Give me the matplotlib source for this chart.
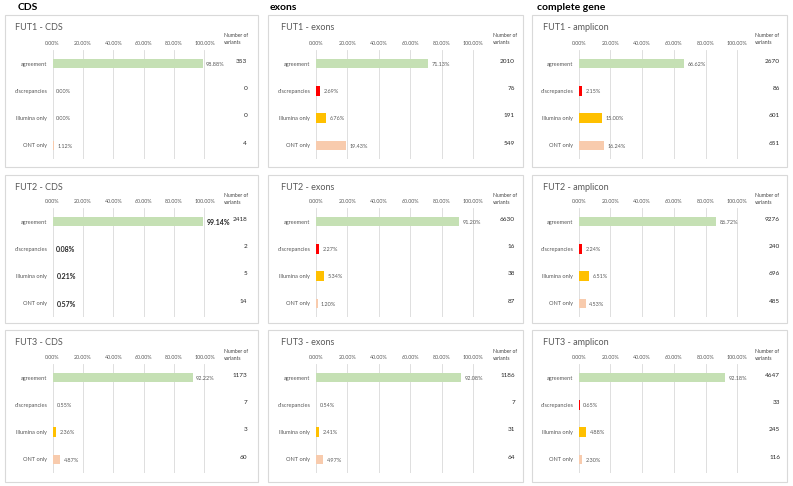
import matplotlib
matplotlib.use("Agg")
import matplotlib.pyplot as plt
from matplotlib.patches import Rectangle
from matplotlib.transforms import blended_transform_factory

plt.rcParams['font.family'] = ['Lato', 'DejaVu Sans']

W, H = 793, 486

# ---------------- data ----------------
categories = ["agreement", "discrepancies", "Illumina only", "ONT only"]
bar_colors = ["#c5e0b4", "#ff0000", "#ffc000", "#f8cbad"]
tick_values = [0, 20, 40, 60, 80, 100]
tick_labels = ["0.00%", "20.00%", "40.00%", "60.00%", "80.00%", "100.00%"]
section_titles = ["CDS", "exons", "complete gene"]
panel_titles = [
    ["FUT1 - CDS", "FUT1 - exons", "FUT1 - amplicon"],
    ["FUT2 - CDS", "FUT2 - exons", "FUT2 - amplicon"],
    ["FUT3 - CDS", "FUT3 - exons", "FUT3 - amplicon"],
]

fut1_cds_pct = [98.88, 0.00, 0.00, 1.12]
fut1_exons_pct = [71.13, 2.69, 6.76, 19.43]
fut1_amplicon_pct = [66.62, 2.15, 15.00, 16.24]
fut2_cds_pct = [99.14, 0.08, 0.21, 0.57]
fut2_exons_pct = [91.20, 2.27, 5.34, 1.20]
fut2_amplicon_pct = [86.72, 2.24, 6.51, 4.53]
fut3_cds_pct = [92.22, 0.55, 2.36, 4.87]
fut3_exons_pct = [92.08, 0.54, 2.41, 4.97]
fut3_amplicon_pct = [92.18, 0.65, 4.88, 2.30]

fut1_cds_n = [353, 0, 0, 4]
fut1_exons_n = [2010, 76, 191, 549]
fut1_amplicon_n = [2670, 86, 601, 651]
fut2_cds_n = [2418, 2, 5, 14]
fut2_exons_n = [6630, 16, 38, 87]
fut2_amplicon_n = [9276, 240, 696, 485]
fut3_cds_n = [1173, 7, 3, 60]
fut3_exons_n = [1186, 7, 31, 64]
fut3_amplicon_n = [4647, 33, 245, 116]

pct_grid = [
    [fut1_cds_pct, fut1_exons_pct, fut1_amplicon_pct],
    [fut2_cds_pct, fut2_exons_pct, fut2_amplicon_pct],
    [fut3_cds_pct, fut3_exons_pct, fut3_amplicon_pct],
]
n_grid = [
    [fut1_cds_n, fut1_exons_n, fut1_amplicon_n],
    [fut2_cds_n, fut2_exons_n, fut2_amplicon_n],
    [fut3_cds_n, fut3_exons_n, fut3_amplicon_n],
]

# ---------------- layout (pixels) ----------------
col_box = [(5, 258), (268, 523), (532, 787)]
col_axis = [(52, 205), (315, 474), (578, 738)]
col_count_right = [247, 515, 780]
col_nv_left = [224, 493, 755]
col_title_x = [15, 281, 543]
section_x = [18, 270, 537]
row_box = [(15, 167), (175, 323), (330, 482)]
row_axis = [(50, 159), (208, 317), (364, 473)]
row_title_y = [27, 187, 342]
row_nv_y = [39, 199, 355]

fig = plt.figure(figsize=(W / 100, H / 100), dpi=100)
fig.patch.set_facecolor("white")

for c, t in enumerate(section_titles):
    fig.text(section_x[c] / W, 1 - 8 / H, t, fontsize=7.5, fontweight="bold",
             ha="left", va="center", color="black")

for r in range(3):
    for c in range(3):
        bx0, bx1 = col_box[c]
        by0, by1 = row_box[r]
        fig.add_artist(Rectangle((bx0 / W, 1 - by1 / H), (bx1 - bx0) / W, (by1 - by0) / H,
                                 transform=fig.transFigure, fill=False,
                                 edgecolor="#d9d9d9", lw=0.8))
        fig.text(col_title_x[c] / W, 1 - row_title_y[r] / H, panel_titles[r][c],
                 fontsize=6.5, color="#595959", ha="left", va="center")
        fig.text(col_nv_left[c] / W, 1 - row_nv_y[r] / H, "Number of\nvariants",
                 fontsize=3.6, color="#404040", ha="left", va="center", linespacing=1.3)

        ax0, ax1 = col_axis[c]
        ay0, ay1 = row_axis[r]
        ax = fig.add_axes([ax0 / W, 1 - ay1 / H, (ax1 - ax0) / W, (ay1 - ay0) / H])
        ax.set_facecolor("none")
        vals = pct_grid[r][c]
        ys = list(range(len(categories)))
        ax.barh(ys, vals, height=0.34, color=bar_colors, zorder=2)
        ax.set_xlim(-0.4, 100.4)
        ax.set_ylim(len(categories) - 0.5, -0.5)
        ax.set_xticks(tick_values)
        ax.set_xticklabels(tick_labels)
        ax.set_yticks(ys)
        ax.set_yticklabels(categories)
        ax.xaxis.tick_top()
        ax.tick_params(axis="x", length=0, pad=3, labelsize=3.9, labelcolor="#595959")
        ax.tick_params(axis="y", length=0, pad=3.5, labelsize=4.1, labelcolor="#595959")
        ax.grid(axis="x", color="#d9d9d9", lw=0.6, zorder=0)
        ax.set_axisbelow(True)
        for s in ax.spines.values():
            s.set_visible(False)

        emph = (r == 1 and c == 0)
        for i, v in enumerate(vals):
            ax.annotate(f"{v:.2f}%", (v, i), xytext=(2.5, -0.5), textcoords="offset points",
                        va="center", ha="left",
                        fontsize=5.0 if emph else 4.0,
                        color="#262626" if emph else "#595959",
                        fontweight="bold" if emph else "normal",
                        annotation_clip=False)
        trans = blended_transform_factory(ax.transAxes, ax.transData)
        xc = (col_count_right[c] - ax0) / (ax1 - ax0)
        for i, n in enumerate(n_grid[r][c]):
            ax.text(xc, i - 0.08, str(n), transform=trans, ha="right", va="center",
                    fontsize=4.6, color="#262626", clip_on=False)

fig.savefig("out.png", dpi=100, facecolor="white")
